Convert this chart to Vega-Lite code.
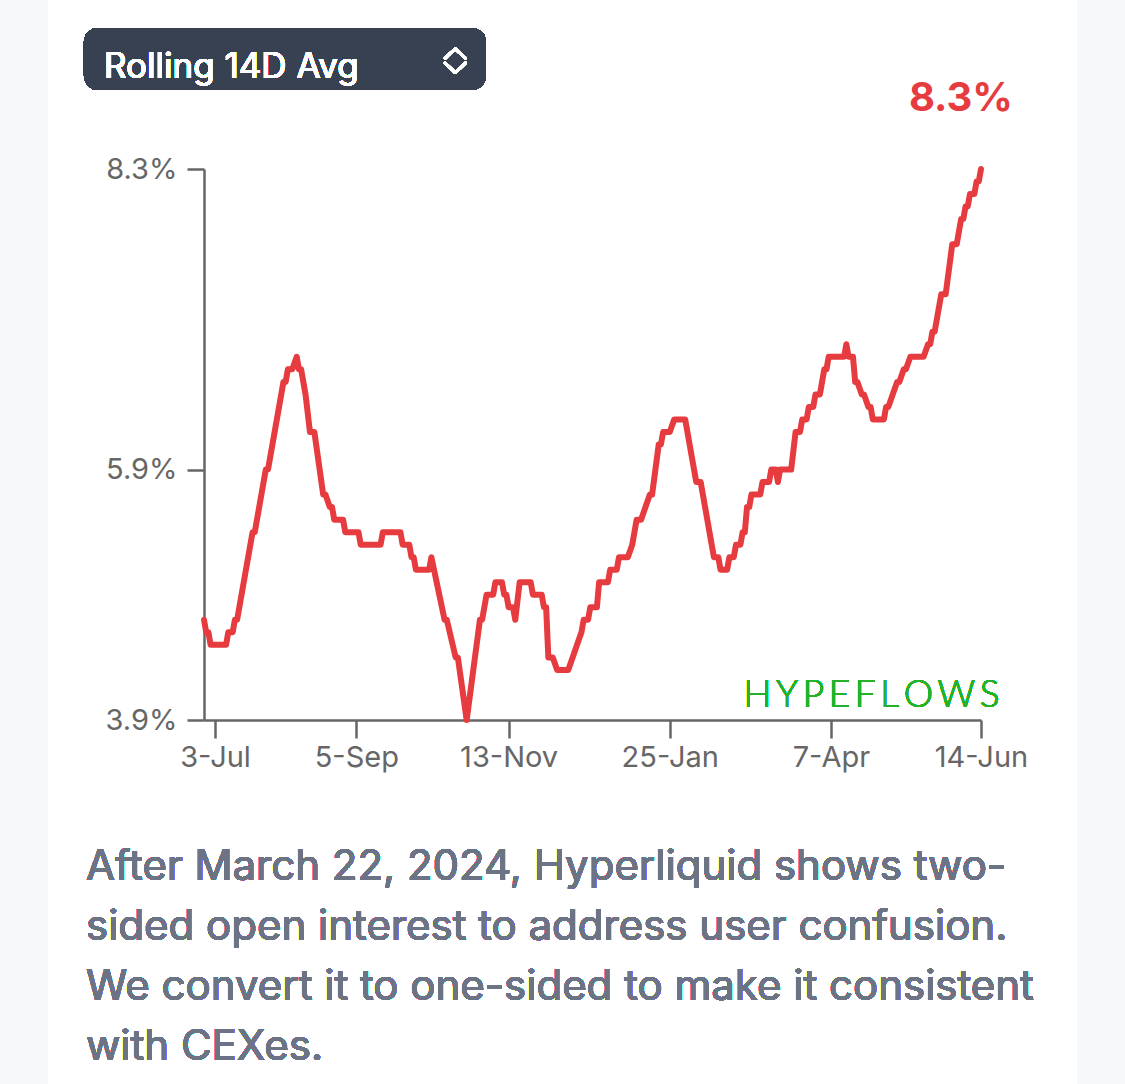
{
  "$schema": "https://vega.github.io/schema/vega-lite/v6.json",
  "description": "Hyperliquid share, rolling 14D average",
  "autosize": {"type": "none"},
  "width": 777,
  "height": 551,
  "padding": {"left": 204, "top": 169, "right": 144, "bottom": 364},
  "background": "#ffffff",
  "config": {"view": {"stroke": null}, "font": "Inter"},
  "data": {
    "format": {"parse": {"date": "date"}},
    "values": [
      {"date": "2023-06-28", "value": 4.7},
      {"date": "2023-06-29", "value": 4.6},
      {"date": "2023-06-30", "value": 4.6},
      {"date": "2023-07-01", "value": 4.5},
      {"date": "2023-07-08", "value": 4.5},
      {"date": "2023-07-09", "value": 4.6},
      {"date": "2023-07-11", "value": 4.6},
      {"date": "2023-07-12", "value": 4.7},
      {"date": "2023-07-13", "value": 4.7},
      {"date": "2023-07-20", "value": 5.4},
      {"date": "2023-07-21", "value": 5.4},
      {"date": "2023-07-26", "value": 5.9},
      {"date": "2023-07-27", "value": 5.9},
      {"date": "2023-08-03", "value": 6.6},
      {"date": "2023-08-04", "value": 6.6},
      {"date": "2023-08-05", "value": 6.7},
      {"date": "2023-08-07", "value": 6.7},
      {"date": "2023-08-09", "value": 6.8},
      {"date": "2023-08-10", "value": 6.7},
      {"date": "2023-08-11", "value": 6.7},
      {"date": "2023-08-13", "value": 6.5},
      {"date": "2023-08-15", "value": 6.2},
      {"date": "2023-08-17", "value": 6.2},
      {"date": "2023-08-21", "value": 5.7},
      {"date": "2023-08-22", "value": 5.7},
      {"date": "2023-08-24", "value": 5.6},
      {"date": "2023-08-25", "value": 5.6},
      {"date": "2023-08-26", "value": 5.5},
      {"date": "2023-08-30", "value": 5.5},
      {"date": "2023-08-31", "value": 5.4},
      {"date": "2023-09-06", "value": 5.4},
      {"date": "2023-09-07", "value": 5.3},
      {"date": "2023-09-16", "value": 5.3},
      {"date": "2023-09-17", "value": 5.4},
      {"date": "2023-09-25", "value": 5.4},
      {"date": "2023-09-26", "value": 5.3},
      {"date": "2023-09-29", "value": 5.3},
      {"date": "2023-09-30", "value": 5.2},
      {"date": "2023-10-01", "value": 5.2},
      {"date": "2023-10-02", "value": 5.1},
      {"date": "2023-10-08", "value": 5.1},
      {"date": "2023-10-09", "value": 5.2},
      {"date": "2023-10-15", "value": 4.7},
      {"date": "2023-10-16", "value": 4.7},
      {"date": "2023-10-20", "value": 4.4},
      {"date": "2023-10-21", "value": 4.4},
      {"date": "2023-10-25", "value": 3.9},
      {"date": "2023-10-28", "value": 4.3},
      {"date": "2023-10-31", "value": 4.7},
      {"date": "2023-11-01", "value": 4.7},
      {"date": "2023-11-03", "value": 4.9},
      {"date": "2023-11-06", "value": 4.9},
      {"date": "2023-11-07", "value": 5.0},
      {"date": "2023-11-10", "value": 5.0},
      {"date": "2023-11-11", "value": 4.9},
      {"date": "2023-11-12", "value": 4.9},
      {"date": "2023-11-13", "value": 4.8},
      {"date": "2023-11-15", "value": 4.8},
      {"date": "2023-11-16", "value": 4.7},
      {"date": "2023-11-18", "value": 5.0},
      {"date": "2023-11-23", "value": 5.0},
      {"date": "2023-11-24", "value": 4.9},
      {"date": "2023-11-28", "value": 4.9},
      {"date": "2023-11-29", "value": 4.8},
      {"date": "2023-11-30", "value": 4.8},
      {"date": "2023-12-01", "value": 4.4},
      {"date": "2023-12-03", "value": 4.4},
      {"date": "2023-12-05", "value": 4.3},
      {"date": "2023-12-10", "value": 4.3},
      {"date": "2023-12-12", "value": 4.4},
      {"date": "2023-12-14", "value": 4.5},
      {"date": "2023-12-16", "value": 4.6},
      {"date": "2023-12-17", "value": 4.7},
      {"date": "2023-12-19", "value": 4.7},
      {"date": "2023-12-20", "value": 4.8},
      {"date": "2023-12-23", "value": 4.8},
      {"date": "2023-12-24", "value": 5.0},
      {"date": "2023-12-28", "value": 5.0},
      {"date": "2023-12-29", "value": 5.1},
      {"date": "2024-01-01", "value": 5.1},
      {"date": "2024-01-02", "value": 5.2},
      {"date": "2024-01-06", "value": 5.2},
      {"date": "2024-01-08", "value": 5.3},
      {"date": "2024-01-10", "value": 5.5},
      {"date": "2024-01-12", "value": 5.5},
      {"date": "2024-01-14", "value": 5.6},
      {"date": "2024-01-16", "value": 5.7},
      {"date": "2024-01-17", "value": 5.7},
      {"date": "2024-01-20", "value": 6.1},
      {"date": "2024-01-21", "value": 6.1},
      {"date": "2024-01-22", "value": 6.2},
      {"date": "2024-01-25", "value": 6.2},
      {"date": "2024-01-27", "value": 6.3},
      {"date": "2024-02-01", "value": 6.3},
      {"date": "2024-02-06", "value": 5.8},
      {"date": "2024-02-08", "value": 5.8},
      {"date": "2024-02-14", "value": 5.2},
      {"date": "2024-02-16", "value": 5.2},
      {"date": "2024-02-17", "value": 5.1},
      {"date": "2024-02-20", "value": 5.1},
      {"date": "2024-02-21", "value": 5.2},
      {"date": "2024-02-23", "value": 5.2},
      {"date": "2024-02-24", "value": 5.3},
      {"date": "2024-02-26", "value": 5.3},
      {"date": "2024-02-27", "value": 5.4},
      {"date": "2024-02-28", "value": 5.4},
      {"date": "2024-02-29", "value": 5.6},
      {"date": "2024-03-01", "value": 5.6},
      {"date": "2024-03-02", "value": 5.7},
      {"date": "2024-03-06", "value": 5.7},
      {"date": "2024-03-07", "value": 5.8},
      {"date": "2024-03-10", "value": 5.8},
      {"date": "2024-03-11", "value": 5.9},
      {"date": "2024-03-13", "value": 5.9},
      {"date": "2024-03-14", "value": 5.8},
      {"date": "2024-03-15", "value": 5.9},
      {"date": "2024-03-20", "value": 5.9},
      {"date": "2024-03-22", "value": 6.2},
      {"date": "2024-03-24", "value": 6.2},
      {"date": "2024-03-25", "value": 6.3},
      {"date": "2024-03-27", "value": 6.3},
      {"date": "2024-03-28", "value": 6.4},
      {"date": "2024-03-30", "value": 6.4},
      {"date": "2024-03-31", "value": 6.5},
      {"date": "2024-04-02", "value": 6.5},
      {"date": "2024-04-04", "value": 6.7},
      {"date": "2024-04-05", "value": 6.7},
      {"date": "2024-04-06", "value": 6.8},
      {"date": "2024-04-13", "value": 6.8},
      {"date": "2024-04-14", "value": 6.9},
      {"date": "2024-04-15", "value": 6.8},
      {"date": "2024-04-17", "value": 6.8},
      {"date": "2024-04-18", "value": 6.6},
      {"date": "2024-04-19", "value": 6.6},
      {"date": "2024-04-21", "value": 6.5},
      {"date": "2024-04-22", "value": 6.5},
      {"date": "2024-04-24", "value": 6.4},
      {"date": "2024-04-25", "value": 6.4},
      {"date": "2024-04-26", "value": 6.3},
      {"date": "2024-05-01", "value": 6.3},
      {"date": "2024-05-02", "value": 6.4},
      {"date": "2024-05-03", "value": 6.4},
      {"date": "2024-05-05", "value": 6.5},
      {"date": "2024-05-07", "value": 6.6},
      {"date": "2024-05-08", "value": 6.6},
      {"date": "2024-05-10", "value": 6.7},
      {"date": "2024-05-11", "value": 6.7},
      {"date": "2024-05-13", "value": 6.8},
      {"date": "2024-05-19", "value": 6.8},
      {"date": "2024-05-21", "value": 6.9},
      {"date": "2024-05-22", "value": 6.9},
      {"date": "2024-05-23", "value": 7.0},
      {"date": "2024-05-24", "value": 7.0},
      {"date": "2024-05-27", "value": 7.3},
      {"date": "2024-05-29", "value": 7.3},
      {"date": "2024-06-01", "value": 7.7},
      {"date": "2024-06-03", "value": 7.7},
      {"date": "2024-06-05", "value": 7.9},
      {"date": "2024-06-06", "value": 7.9},
      {"date": "2024-06-07", "value": 8.0},
      {"date": "2024-06-08", "value": 8.0},
      {"date": "2024-06-09", "value": 8.1},
      {"date": "2024-06-11", "value": 8.1},
      {"date": "2024-06-12", "value": 8.2},
      {"date": "2024-06-13", "value": 8.2},
      {"date": "2024-06-14", "value": 8.3}
    ]
  },
  "layer": [
    {
      "mark": {"type": "line", "color": "#e63b3f", "strokeWidth": 6, "strokeJoin": "round", "strokeCap": "round"},
      "encoding": {
        "x": {
          "field": "date",
          "type": "temporal",
          "scale": {
            "type": "utc",
            "domain": [
              {"year": 2023, "month": 6, "date": 28, "utc": true},
              {"year": 2024, "month": 6, "date": 14, "utc": true}
            ]
          },
          "axis": {
            "title": null,
            "grid": false,
            "values": [
              {"year": 2023, "month": 7, "date": 3, "utc": true},
              {"year": 2023, "month": 9, "date": 5, "utc": true},
              {"year": 2023, "month": 11, "date": 13, "utc": true},
              {"year": 2024, "month": 1, "date": 25, "utc": true},
              {"year": 2024, "month": 4, "date": 7, "utc": true},
              {"year": 2024, "month": 6, "date": 14, "utc": true}
            ],
            "format": "%-d-%b",
            "labelFlush": false,
            "labelOverlap": false,
            "labelFont": "Inter",
            "labelFontSize": 29,
            "labelColor": "#666666",
            "labelPadding": 5,
            "domainColor": "#666666",
            "domainWidth": 2.5,
            "tickColor": "#666666",
            "tickWidth": 2.5,
            "tickSize": 18
          }
        },
        "y": {
          "field": "value",
          "type": "quantitative",
          "scale": {"domain": [3.9, 8.3], "nice": false, "zero": false},
          "axis": {
            "title": null,
            "grid": false,
            "values": [3.9, 5.9, 8.3],
            "labelExpr": "format(datum.value, '.1f') + '%'",
            "labelFlush": false,
            "labelFont": "Inter",
            "labelFontSize": 29,
            "labelColor": "#666666",
            "labelPadding": 10,
            "domainColor": "#666666",
            "domainWidth": 2.5,
            "tickColor": "#666666",
            "tickWidth": 2.5,
            "tickSize": 17
          }
        }
      }
    },
    {
      "transform": [
        {"joinaggregate": [{"op": "max", "field": "date", "as": "last"}]},
        {"filter": "datum.date >= datum.last"},
        {"calculate": "format(datum.value, '.1f') + '%'", "as": "label"}
      ],
      "mark": {"type": "text", "align": "right", "baseline": "alphabetic", "dx": 32, "dy": -58, "font": "Inter", "fontSize": 40, "fontWeight": "bold", "color": "#e63b3f"},
      "encoding": {
        "x": {"field": "date", "type": "temporal"},
        "y": {"field": "value", "type": "quantitative"},
        "text": {"field": "label"}
      }
    },
    {
      "mark": {"type": "rect", "color": "#f7f8fa"},
      "encoding": {
        "x": {"datum": {"year": 2023, "month": 3, "date": 1, "utc": true}, "type": "temporal"},
        "x2": {"datum": {"year": 2023, "month": 4, "date": 18, "hours": 8, "utc": true}},
        "y": {"datum": 12, "type": "quantitative"},
        "y2": {"datum": -1}
      }
    },
    {
      "mark": {"type": "rect", "color": "#f7f8fa"},
      "encoding": {
        "x": {"datum": {"year": 2024, "month": 7, "date": 27, "hours": 12, "utc": true}, "type": "temporal"},
        "x2": {"datum": {"year": 2024, "month": 9, "date": 1, "utc": true}},
        "y": {"datum": 12, "type": "quantitative"},
        "y2": {"datum": -1}
      }
    },
    {
      "mark": {"type": "rect", "color": "#374151", "cornerRadius": 14},
      "encoding": {
        "x": {"datum": {"year": 2023, "month": 5, "date": 4, "hours": 15, "utc": true}, "type": "temporal"},
        "x2": {"datum": {"year": 2023, "month": 11, "date": 2, "hours": 18, "utc": true}},
        "y": {"datum": 9.426, "type": "quantitative"},
        "y2": {"datum": 8.931}
      }
    },
    {
      "mark": {"type": "text", "text": "Rolling 14D Avg", "align": "left", "baseline": "alphabetic", "font": "Inter", "fontSize": 35, "fontWeight": 400, "color": "#ffffff"},
      "encoding": {
        "x": {"datum": {"year": 2023, "month": 5, "date": 13, "hours": 17, "utc": true}, "type": "temporal"},
        "y": {"datum": 9.027, "type": "quantitative"}
      }
    },
    {
      "mark": {
        "type": "point",
        "shape": "M-0.85,-0.15L0,-0.95L0.85,-0.15M-0.85,0.25L0,1.05L0.85,0.25",
        "filled": false,
        "size": 576,
        "stroke": "#ffffff",
        "strokeWidth": 2.8,
        "strokeCap": "round",
        "strokeJoin": "round",
        "opacity": 1
      },
      "encoding": {
        "x": {"datum": {"year": 2023, "month": 10, "date": 19, "hours": 20, "utc": true}, "type": "temporal"},
        "y": {"datum": 9.17, "type": "quantitative"}
      }
    },
    {
      "mark": {"type": "text", "text": "H\u2009Y\u2009P\u2009E\u2009F\u2009L\u2009O\u2009W\u2009S", "align": "center", "baseline": "alphabetic", "font": "Lato", "fontWeight": 300, "fontSize": 37, "color": "#25b22b"},
      "encoding": {
        "x": {"datum": {"year": 2024, "month": 4, "date": 25, "hours": 10, "utc": true}, "type": "temporal"},
        "y": {"datum": 4.0, "type": "quantitative"}
      }
    },
    {
      "mark": {
        "type": "text",
        "text": [
          "After March 22, 2024, Hyperliquid shows two-",
          "sided open interest to address user confusion.",
          "We convert it to one-sided to make it consistent",
          "with CEXes."
        ],
        "align": "left",
        "baseline": "alphabetic",
        "font": "Inter",
        "fontSize": 42,
        "lineHeight": 60,
        "color": "#6b7385"
      },
      "encoding": {
        "x": {"datum": {"year": 2023, "month": 5, "date": 5, "hours": 13, "utc": true}, "type": "temporal"},
        "y": {"datum": 2.622, "type": "quantitative"}
      }
    }
  ]
}
